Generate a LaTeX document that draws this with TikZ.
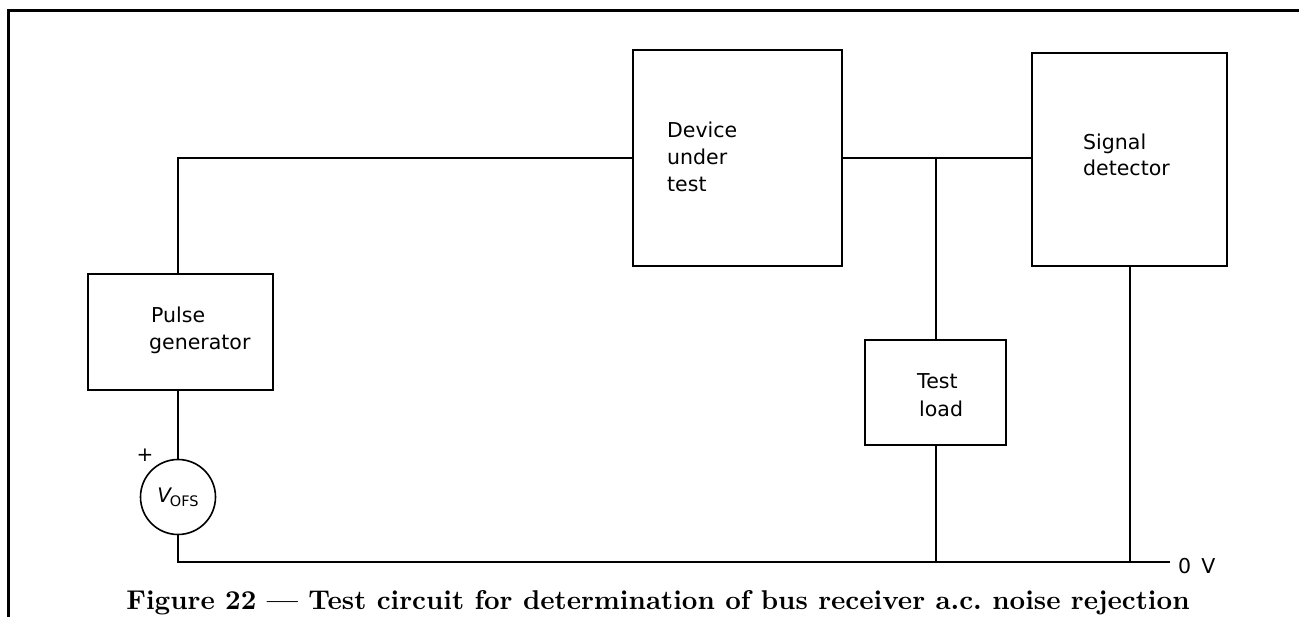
\documentclass[tikz,border=0pt]{standalone}
\usepackage{fontspec}
\newfontfamily\dejavu{DejaVu Sans}
\begin{document}
\begin{tikzpicture}[x=1pt,y=-1pt,
  blk/.style={draw,line width=1.6pt,rectangle,inner sep=0pt},
  wire/.style={line width=1.4pt},
  lbl/.style={font=\dejavu\fontsize{20.5}{24}\selectfont,inner sep=0pt,anchor=base west},
  frame/.style={line width=3pt}]
\useasboundingbox (0,0) rectangle (1299,617);
% frame
\draw[frame] (8.5,617) -- (8.5,10.5) -- (1299,10.5);
% blocks
\node[blk,minimum width=185pt,minimum height=116pt] (pg) at (180.5,332) {};
\node[blk,minimum width=209pt,minimum height=216pt] (dut) at (737.5,158) {};
\node[blk,minimum width=195pt,minimum height=213pt] (sd) at (1129.5,159.5) {};
\node[blk,minimum width=141pt,minimum height=105pt] (tl) at (935.5,392.5) {};
\node[draw,circle,line width=1.6pt,minimum size=75pt,inner sep=0pt] (v) at (178,497) {};
% labels
\node[lbl] (t1) at (667,138) {Device};
\node[lbl] (t2) at (667,165) {under};
\node[lbl] (t3) at (667,192) {test};
\node[lbl] (t4) at (1083,150) {Signal};
\node[lbl] (t5) at (1083,176) {detector};
\node[lbl] (t6) at (151,323) {Pulse};
\node[lbl] (t7) at (149,350) {generator};
\node[lbl] (t8) at (917,389) {Test};
\node[lbl] (t9) at (919,417) {load};
\node[inner sep=0pt,anchor=base] (vl) at (178,502) {\dejavu\fontsize{20}{22}\selectfont\itshape V\kern-1pt\raisebox{-5pt}{\upshape\fontsize{14.5}{16}\selectfont OFS}};
\node[inner sep=0pt,font=\dejavu\fontsize{20}{24}\selectfont] (plus) at (145,455) {+};
% wires
\coordinate (gend) at (1170,562);
\coordinate (j) at (936,158);
\coordinate (sdb) at (1130,266);
\draw[wire] (pg.north -| v.north) |- (dut.west);
\draw[wire] (dut.east) -- (dut.east -| sd.west);
\draw[wire] (j) -- (tl.north -| j);
\draw[wire] (pg.south -| v.north) -- (v.north);
\draw[wire] (v.south) |- (gend);
\draw[wire] (tl.south -| j) -- (j |- gend);
\draw[wire] (sdb) -- (sdb |- gend);
\node[lbl] (zv) at (1178,573) {0\hspace{0.5em}V};
% caption
\node[inner sep=0pt,anchor=base] (cap) at (658,609) {\resizebox{1063pt}{!}{\bfseries Figure 22 --- Test circuit for determination of bus receiver a.c.\ noise rejection}};
\end{tikzpicture}
\end{document}
